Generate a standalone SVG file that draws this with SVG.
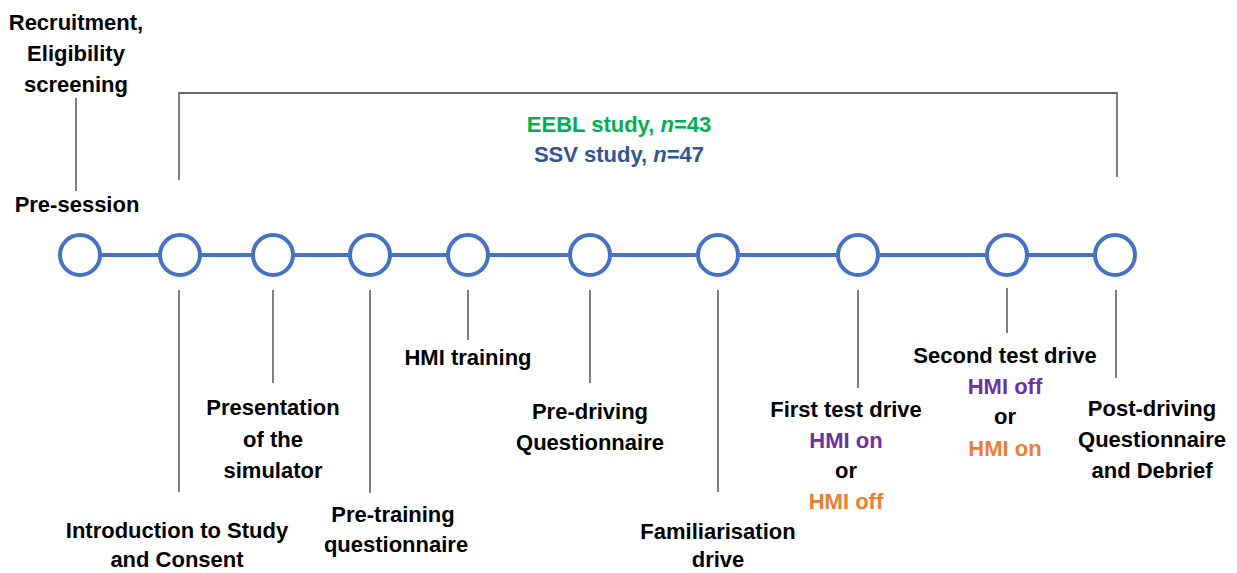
<svg xmlns="http://www.w3.org/2000/svg" width="1237" height="573" viewBox="0 0 1237 573">
  <style>
    .lbl { font-family: "Liberation Sans", Arial, sans-serif; font-weight: bold; font-size: 22px; fill: #000; text-anchor: middle; }
    .green { fill: #00B050; }
    .blue { fill: #2F5597; }
    .purple { fill: #7030A0; }
    .orange { fill: #ED7D31; }
    .tick { stroke: #3a3a3a; stroke-width: 1.3; fill: none; }
    .node { fill: #fff; stroke: #4472C4; stroke-width: 4; }
    .track { stroke: #4472C4; stroke-width: 4; }
  </style>
  <rect width="1237" height="573" fill="#fff"/>

  <!-- connectors: timeline track, label ticks and study bracket -->
  <g id="connectors">
    <line class="track" x1="80" y1="255" x2="1115" y2="255"/>
    <line class="tick" x1="76" y1="98" x2="76" y2="191"/>
    <polyline class="tick" points="179,180 179,93 1117,93 1117,177"/>
    <line class="tick" x1="179" y1="290" x2="179" y2="492"/>
    <line class="tick" x1="273" y1="290" x2="273" y2="383"/>
    <line class="tick" x1="370" y1="290" x2="370" y2="493"/>
    <line class="tick" x1="468" y1="290" x2="468" y2="340"/>
    <line class="tick" x1="590" y1="290" x2="590" y2="383"/>
    <line class="tick" x1="718" y1="290" x2="718" y2="492"/>
    <line class="tick" x1="858" y1="290" x2="858" y2="388"/>
    <line class="tick" x1="1007" y1="288" x2="1007" y2="333"/>
    <line class="tick" x1="1116" y1="290" x2="1116" y2="378"/>
  </g>

  <g id="study-label">
    <text class="lbl green" x="619" y="132">EEBL study, <tspan font-style="italic">n</tspan>=43</text>
    <text class="lbl blue" x="619" y="162">SSV study, <tspan font-style="italic">n</tspan>=47</text>
  </g>

  <g id="pre-session">
    <circle class="node" cx="80" cy="255" r="20"/>
    <text class="lbl" x="76" y="30">Recruitment,</text>
    <text class="lbl" x="76" y="61">Eligibility</text>
    <text class="lbl" x="76" y="92">screening</text>
    <text class="lbl" x="77" y="212">Pre-session</text>
  </g>

  <g id="introduction">
    <circle class="node" cx="180" cy="255" r="20"/>
    <text class="lbl" x="177" y="538">Introduction to Study</text>
    <text class="lbl" x="177" y="567">and Consent</text>
  </g>

  <g id="presentation">
    <circle class="node" cx="273" cy="255" r="20"/>
    <text class="lbl" x="273" y="415">Presentation</text>
    <text class="lbl" x="273" y="447">of the</text>
    <text class="lbl" x="273" y="478">simulator</text>
  </g>

  <g id="pre-training">
    <circle class="node" cx="370" cy="255" r="20"/>
    <text class="lbl" x="393" y="522">Pre-training</text>
    <text class="lbl" x="396" y="552">questionnaire</text>
  </g>

  <g id="hmi-training">
    <circle class="node" cx="468" cy="255" r="20"/>
    <text class="lbl" x="468" y="365">HMI training</text>
  </g>

  <g id="pre-driving">
    <circle class="node" cx="590" cy="255" r="20"/>
    <text class="lbl" x="590" y="419">Pre-driving</text>
    <text class="lbl" x="590" y="450">Questionnaire</text>
  </g>

  <g id="familiarisation">
    <circle class="node" cx="718" cy="255" r="20"/>
    <text class="lbl" x="718" y="539">Familiarisation</text>
    <text class="lbl" x="718" y="567">drive</text>
  </g>

  <g id="first-test">
    <circle class="node" cx="858" cy="255" r="20"/>
    <text class="lbl" x="846" y="417">First test drive</text>
    <text class="lbl purple" x="846" y="448">HMI on</text>
    <text class="lbl" x="846" y="478">or</text>
    <text class="lbl orange" x="846" y="509">HMI off</text>
  </g>

  <g id="second-test">
    <circle class="node" cx="1007" cy="255" r="20"/>
    <text class="lbl" x="1005" y="363">Second test drive</text>
    <text class="lbl purple" x="1005" y="394">HMI off</text>
    <text class="lbl" x="1005" y="424">or</text>
    <text class="lbl orange" x="1005" y="456">HMI on</text>
  </g>

  <g id="post-driving">
    <circle class="node" cx="1115" cy="255" r="20"/>
    <text class="lbl" x="1152" y="416">Post-driving</text>
    <text class="lbl" x="1152" y="447">Questionnaire</text>
    <text class="lbl" x="1152" y="478">and Debrief</text>
  </g>
</svg>
